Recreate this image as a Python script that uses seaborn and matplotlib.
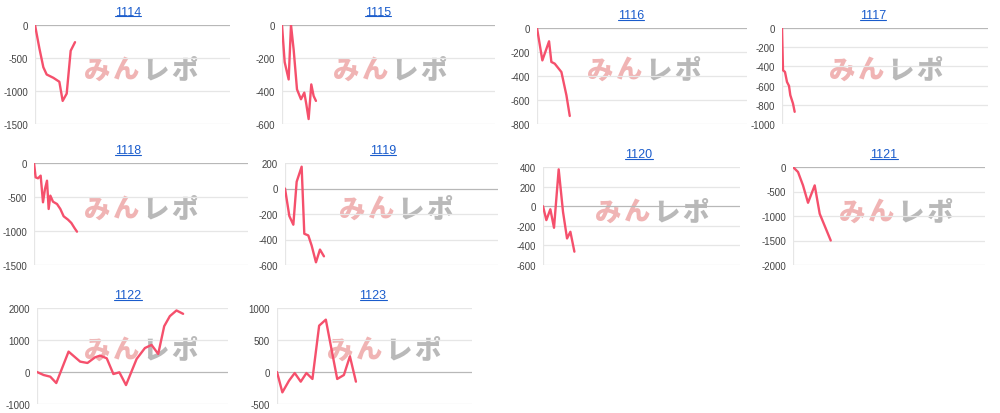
import matplotlib
matplotlib.use("Agg")
import matplotlib.pyplot as plt
import seaborn as sns
import pandas as pd
from matplotlib.lines import Line2D

# ---------------- data ----------------
titles = ["1114", "1115", "1116", "1117", "1118", "1119", "1120", "1121", "1122", "1123"]

games_1114 = [0, 178, 342, 479, 752, 999, 1135, 1300, 1464, 1642]
diff_1114 = [0, -350, -640, -750, -800, -860, -1150, -1040, -390, -260]

games_1115 = [0, 100, 250, 338, 438, 563, 713, 838, 913, 1000, 1100, 1188, 1275]
diff_1115 = [0, -225, -330, 0, -150, -390, -450, -410, -480, -570, -360, -430, -460]

games_1116 = [0, 204, 459, 548, 675, 930, 1121, 1248]
diff_1116 = [0, -270, -111, -283, -297, -367, -561, -733]

games_1117 = [0, 39, 116, 194, 272, 323, 427, 492]
diff_1117 = [0, -440, -458, -562, -603, -700, -787, -873]

games_1118 = [0, 62, 150, 249, 336, 411, 486, 548, 611, 710, 860, 984, 1109, 1271, 1396, 1520, 1607]
diff_1118 = [0, -211, -225, -186, -578, -382, -260, -676, -480, -569, -603, -676, -784, -833, -882, -960, -1010]

games_1119 = [0, 163, 313, 438, 625, 725, 875, 1000, 1163, 1313, 1463]
diff_1119 = [0, -216, -284, 53, 171, -355, -368, -447, -579, -479, -532]

games_1120 = [0, 136, 298, 447, 637, 813, 976, 1112, 1275]
diff_1120 = [0, -142, -31, -220, 376, -58, -329, -261, -464]

games_1121 = [0, 209, 417, 626, 904, 1113, 1572]
diff_1121 = [0, -102, -375, -730, -375, -955, -1500]

games_1122 = [0, 278, 556, 807, 1322, 1808, 2114, 2434, 2643, 2921, 3199, 3450, 3728,
              4173, 4521, 4799, 5077, 5328, 5564, 5842, 6120]
diff_1122 = [0, -94, -146, -345, 637, 324, 282, 460, 512, 428, -63, -10, -408,
             408, 750, 846, 564, 1432, 1745, 1923, 1818]

games_1123 = [0, 220, 494, 727, 974, 1207, 1454, 1729, 2003, 2470, 2744, 2991, 3238]
diff_1123 = [0, -318, -135, -16, -151, -16, -109, 724, 818, -109, -47, 245, -151]

yticks_1114 = [0, -500, -1000, -1500]
yticks_1115 = [0, -200, -400, -600]
yticks_1116 = [0, -200, -400, -600, -800]
yticks_1117 = [0, -200, -400, -600, -800, -1000]
yticks_1118 = [0, -500, -1000, -1500]
yticks_1119 = [200, 0, -200, -400, -600]
yticks_1120 = [400, 200, 0, -200, -400, -600]
yticks_1121 = [0, -500, -1000, -1500, -2000]
yticks_1122 = [2000, 1000, 0, -1000]
yticks_1123 = [1000, 500, 0, -500]

games = [games_1114, games_1115, games_1116, games_1117, games_1118,
         games_1119, games_1120, games_1121, games_1122, games_1123]
diffs = [diff_1114, diff_1115, diff_1116, diff_1117, diff_1118,
         diff_1119, diff_1120, diff_1121, diff_1122, diff_1123]
yticks = [yticks_1114, yticks_1115, yticks_1116, yticks_1117, yticks_1118,
          yticks_1119, yticks_1120, yticks_1121, yticks_1122, yticks_1123]
XMAX = 8000

# ---------------- layout (pixels: left, right, top, bottom) ----------------
W, H = 1000, 414
boxes = [(35, 230, 26, 125), (282, 495, 26, 125), (537, 747, 29, 125), (782, 988, 29, 125),
         (34, 248, 164, 266), (285, 498, 164, 266), (543, 740, 168, 266), (793, 985, 168, 266),
         (37, 228, 309, 405), (277, 472, 309, 405)]
title_pos = [(128, 12.5), (378, 12.5), (631, 16), (873, 16),
             (128, 151), (383, 151), (639, 155), (884, 155),
             (128, 296), (373, 296)]
mark_pos = [(141, 70), (390, 70), (644, 70), (886, 70),
            (141, 209), (396, 209), (652, 212), (896, 212),
            (141, 350), (384, 350)]

sns.set_style("white")
plt.rcParams['font.family'] = ['Liberation Sans']
plt.rcParams['axes.unicode_minus'] = False

LINE = "#f5506c"
GRID = "#e6e6e6"
BASE = "#b8b8b8"
LINK = "#1a5ccc"

fig = plt.figure(figsize=(W / 100, H / 100), dpi=100)

title_texts = []
for i in range(len(titles)):
    l, r, t, b = boxes[i]
    ax = fig.add_axes([l / W, 1 - b / H, (r - l) / W, (b - t) / H])
    df = pd.DataFrame({"games": games[i], "diff": diffs[i]})
    ticks = yticks[i]
    for v in ticks:
        ax.axhline(v, color=BASE if v == 0 else GRID, lw=0.9, zorder=0.5)
    ax.axvline(0, color=GRID, lw=0.9, zorder=0.5)
    sns.lineplot(data=df, x="games", y="diff", ax=ax, color=LINE, linewidth=1.7,
                 zorder=3, estimator=None, sort=False)
    ax.set_xlim(0, XMAX)
    ax.set_ylim(min(ticks), max(ticks))
    ax.set_yticks(ticks)
    ax.set_yticklabels([str(v) for v in ticks])
    ax.set_xticks([])
    ax.set_xlabel("")
    ax.set_ylabel("")
    for s in ax.spines.values():
        s.set_visible(False)
    ax.tick_params(axis="y", length=0, pad=5, labelsize=7, labelcolor="#444444")
    ax.patch.set_alpha(0)
    ax.set_zorder(2)

    # watermark
    mx, my = mark_pos[i]
    chars = ["み", "ん", "レ", "ポ"]
    cols = ["#f0b0b0", "#f0b0b0", "#b5b5b5", "#b5b5b5"]
    for k, (ch, c) in enumerate(zip(chars, cols)):
        fig.text((mx + (k - 1.5) * 29) / W, 1 - my / H, ch, ha="center", va="center",
                 fontsize=19, fontweight="heavy", color=c, alpha=0.95,
                 family=['Noto Sans CJK JP', 'DejaVu Sans'], zorder=1)

    tx, ty = title_pos[i]
    tt = fig.text(tx / W, 1 - ty / H, titles[i], ha="center", va="center",
                  fontsize=9, color=LINK, zorder=5, family="Liberation Sans")
    title_texts.append(tt)

# underline titles (link style)
renderer = fig.canvas.get_renderer()
for tt in title_texts:
    bb = tt.get_window_extent(renderer)
    y = bb.y0 + 1.5
    fig.add_artist(Line2D([bb.x0 / W, bb.x1 / W], [y / H, y / H],
                          transform=fig.transFigure, color=LINK, lw=0.8))

fig.savefig("out.png", dpi=100, facecolor="white")
